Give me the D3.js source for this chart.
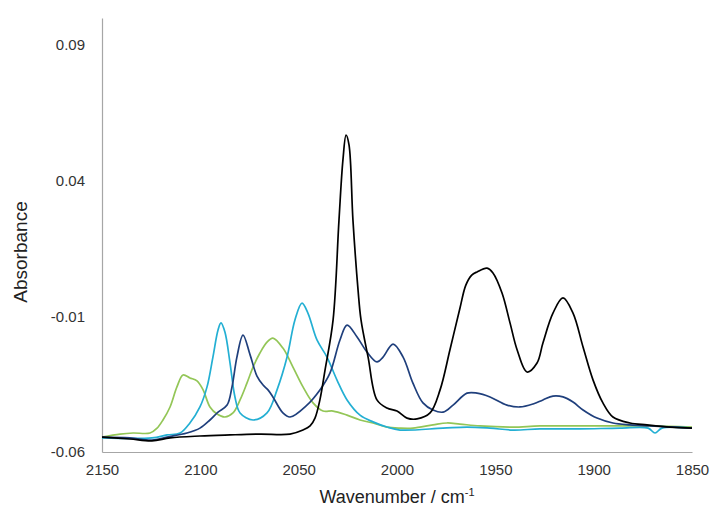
<!DOCTYPE html>
<html>
<head>
<meta charset="utf-8">
<script src="https://cdn.jsdelivr.net/npm/d3@7"></script>
<style>
  html, body { margin: 0; padding: 0; background: #fff; }
  svg { display: block; font-family: "Liberation Sans", Arial, sans-serif; }
</style>
</head>
<body>
<svg id="chart" width="711" height="509"></svg>
<script>
// ---- Data (wavenumber cm-1, absorbance) ----
const xTicks = [2150, 2100, 2050, 2000, 1950, 1900, 1850];
const yTicks = [-0.06, -0.01, 0.04, 0.09];
const seriesNames = ["black", "navy", "cyan", "green"];
const seriesColors = ["#000000", "#1f3f7c", "#23afd3", "#93c657"];

const blackSeries = [
  [2150,-0.0545],[2135.8,-0.0552],[2124.6,-0.0559],[2115.4,-0.0548],[2100.2,-0.0541],
  [2084.9,-0.0537],[2069.7,-0.0534],[2054.4,-0.0534],[2047.8,-0.0519],[2044.2,-0.0504],
  [2041.7,-0.0475],[2039.2,-0.0408],[2036.6,-0.0298],[2032.5,-0.0113],[2029.5,0.0255],
  [2027.5,0.0476],[2025.9,0.0568],[2024.4,0.0532],[2022.4,0.0255],[2019.8,-0.0003],
  [2018.3,-0.0113],[2014.7,-0.0250],[2010.2,-0.0408],[2005.1,-0.0438],[2000.0,-0.0449],
  [1994.9,-0.0475],[1989.8,-0.0478],[1983.2,-0.0456],[1978.1,-0.0371],[1973.1,-0.0224],
  [1968.0,-0.0070],[1965.0,0.0015],[1962.0,0.0052],[1959.3,0.0064],[1954.2,0.0078],
  [1951.2,0.0060],[1946.6,-0.0014],[1942.5,-0.0125],[1938.9,-0.0224],[1933.9,-0.0305],
  [1928.8,-0.0272],[1925.8,-0.0198],[1920.7,-0.0088],[1915.6,-0.0032],[1910.5,-0.0088],
  [1905.4,-0.0213],[1900.3,-0.0335],[1895.3,-0.0419],[1890.2,-0.0471],[1881.5,-0.0493],
  [1872.9,-0.0500],[1861.2,-0.0508],[1850,-0.0512]
];

const navySeries = [
  [2150,-0.0545],[2135.8,-0.0548],[2124.6,-0.0556],[2116.9,-0.0545],[2106.8,-0.0530],
  [2100.2,-0.0512],[2095.1,-0.0482],[2091.0,-0.0453],[2086.4,-0.0427],[2083.9,-0.0360],
  [2081.4,-0.0250],[2078.3,-0.0169],[2074.7,-0.0242],[2071.2,-0.0320],[2068.1,-0.0353],
  [2065.6,-0.0371],[2063.1,-0.0397],[2058.0,-0.0456],[2054.4,-0.0471],[2045.8,-0.0427],
  [2039.2,-0.0371],[2034.1,-0.0309],[2029.0,-0.0187],[2025.4,-0.0132],[2020.3,-0.0176],
  [2015.3,-0.0231],[2010.2,-0.0268],[2007.1,-0.0250],[2002.0,-0.0202],[1996.9,-0.0250],
  [1991.9,-0.0346],[1986.8,-0.0419],[1981.7,-0.0445],[1976.6,-0.0453],[1971.5,-0.0427],
  [1964.4,-0.0383],[1959.3,-0.0383],[1952.7,-0.0397],[1944.1,-0.0427],[1937.5,-0.0434],
  [1930.8,-0.0423],[1925.8,-0.0408],[1920.7,-0.0394],[1915.6,-0.0397],[1910.5,-0.0416],
  [1905.4,-0.0445],[1898.3,-0.0475],[1890.2,-0.0493],[1881.5,-0.0500],[1871.4,-0.0504],
  [1850,-0.0512]
];

const cyanSeries = [
  [2150,-0.0548],[2124.6,-0.0548],[2116.9,-0.0537],[2110.3,-0.0530],[2105.3,-0.0493],
  [2100.2,-0.0434],[2096.6,-0.0360],[2093.6,-0.0250],[2091.0,-0.0150],[2089.5,-0.0124],
  [2087.5,-0.0158],[2084.9,-0.0272],[2082.4,-0.0397],[2079.8,-0.0456],[2073.2,-0.0482],
  [2066.1,-0.0456],[2061.0,-0.0371],[2055.9,-0.0250],[2051.9,-0.0113],[2048.3,-0.0051],
  [2045.3,-0.0088],[2040.7,-0.0187],[2035.6,-0.0250],[2030.5,-0.0335],[2025.4,-0.0408],
  [2018.8,-0.0464],[2012.2,-0.0489],[2005.1,-0.0508],[1998.5,-0.0519],[1976.6,-0.0512],
  [1964.4,-0.0508],[1952.7,-0.0512],[1941.0,-0.0519],[1927.3,-0.0515],[1907.0,-0.0515],
  [1886.6,-0.0512],[1872.3,-0.0512],[1868.8,-0.0530],[1865.3,-0.0512],[1850,-0.0512]
];

const greenSeries = [
  [2150,-0.0545],[2140.8,-0.0534],[2134.2,-0.0530],[2125.6,-0.0530],[2122.0,-0.0512],
  [2119.0,-0.0482],[2115.4,-0.0434],[2111.9,-0.0360],[2108.8,-0.0316],[2105.3,-0.0327],
  [2101.7,-0.0338],[2098.6,-0.0371],[2095.1,-0.0434],[2091.5,-0.0460],[2087.5,-0.0471],
  [2083.4,-0.0456],[2079.8,-0.0408],[2076.3,-0.0346],[2073.2,-0.0287],[2069.7,-0.0235],
  [2066.1,-0.0195],[2063.1,-0.0180],[2058.0,-0.0217],[2052.9,-0.0287],[2047.8,-0.0360],
  [2042.7,-0.0419],[2037.6,-0.0449],[2032.5,-0.0449],[2025.4,-0.0464],[2018.8,-0.0482],
  [2012.2,-0.0493],[2005.1,-0.0508],[1998.5,-0.0512],[1991.9,-0.0512],[1981.7,-0.0500],
  [1974.6,-0.0493],[1968.0,-0.0497],[1957.8,-0.0504],[1941.0,-0.0508],[1927.3,-0.0504],
  [1896.8,-0.0504],[1871.4,-0.0504],[1850,-0.0508]
];

const allSeries = [greenSeries, cyanSeries, navySeries, blackSeries];
const drawColors = [seriesColors[3], seriesColors[2], seriesColors[1], seriesColors[0]];

// ---- Layout ----
const W = 711, H = 509;
const margin = { left: 102, right: 19, top: 18, bottom: 57 };
const svg = d3.select("#chart");

const x = d3.scaleLinear().domain([2150, 1850]).range([margin.left, W - margin.right]);
const y = d3.scaleLinear().domain([-0.06, 0.10]).range([H - margin.bottom, margin.top]);

// Axes
const xAxis = d3.axisBottom(x).tickValues(xTicks).tickSize(0).tickPadding(12).tickFormat(d => String(d));
const yAxis = d3.axisLeft(y).tickValues(yTicks).tickSize(0).tickPadding(17).tickFormat(d => d.toFixed(2));

const gx = svg.append("g").attr("transform", `translate(0,${H - margin.bottom})`).call(xAxis);
const gy = svg.append("g").attr("transform", `translate(${margin.left},0)`).call(yAxis);

[gx, gy].forEach(g => {
  g.select(".domain").attr("stroke", "#a6a6a6").attr("stroke-width", 1.2);
  g.selectAll("text").attr("font-size", 15).attr("fill", "#333").attr("font-family", "Liberation Sans, Arial, sans-serif");
});

// Lines
const line = d3.line().x(d => x(d[0])).y(d => y(d[1])).curve(d3.curveCatmullRom.alpha(0.5));
svg.append("g").selectAll("path")
  .data(allSeries)
  .join("path")
  .attr("d", d => line(d))
  .attr("fill", "none")
  .attr("stroke", (d, i) => drawColors[i])
  .attr("stroke-width", 1.7)
  .attr("stroke-linejoin", "round");

// Titles
svg.append("text")
  .attr("transform", `translate(27,252) rotate(-90)`)
  .attr("text-anchor", "middle")
  .attr("font-size", 19)
  .attr("fill", "#222")
  .text("Absorbance");

const xt = svg.append("text")
  .attr("x", (margin.left + W - margin.right) / 2)
  .attr("y", 503)
  .attr("text-anchor", "middle")
  .attr("font-size", 18)
  .attr("fill", "#222");
xt.append("tspan").text("Wavenumber / cm");
xt.append("tspan").attr("font-size", 11).attr("dy", -7).text("-1");
</script>
</body>
</html>
